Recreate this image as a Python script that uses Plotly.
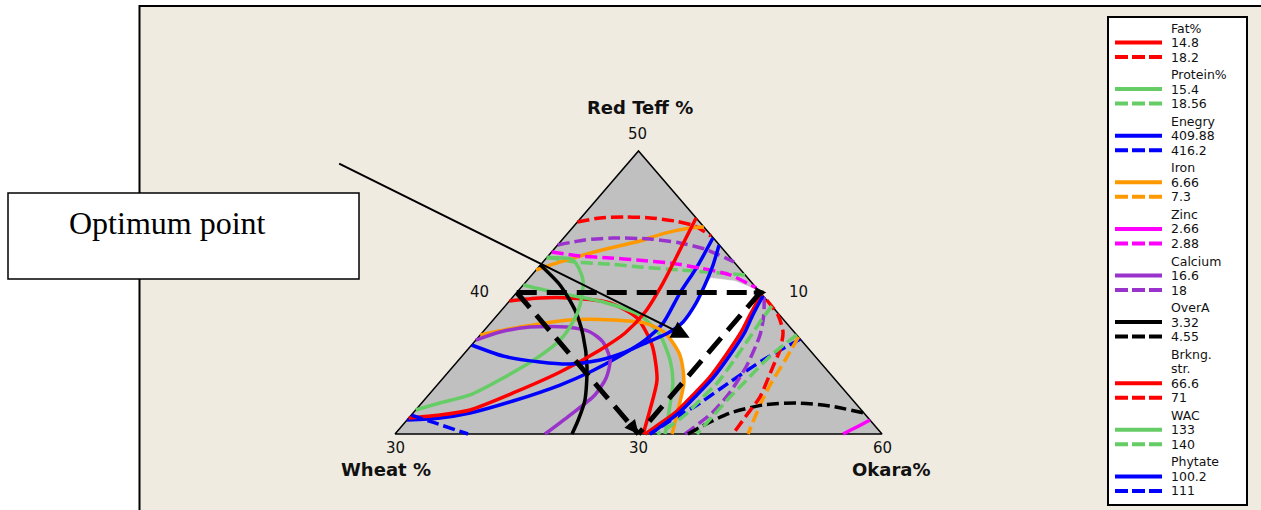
import numpy as np
import plotly.graph_objects as go

FIG_W, FIG_H = 1261, 510

# Blend design space (%): Red Teff 30-50, Wheat 10-30, Okara 40-60
TEFF_LO, OKARA_LO, SPAN = 30.0, 40.0, 20.0

# ---------------- response legend ----------------
response_names = ["Fat%", "Protein%", "Enegry", "Iron", "Zinc", "Calcium",
                  "OverA", "Brkng.\nstr.", "WAC", "Phytate"]
lower_limits = ["14.8", "15.4", "409.88", "6.66", "2.66", "16.6", "3.32", "66.6", "133", "100.2"]
upper_limits = ["18.2", "18.56", "416.2", "7.3", "2.88", "18", "4.55", "71", "140", "111"]
response_colors = ["#FF0000", "#66CC66", "#0000FF", "#FF9900", "#FF00FF", "#9933CC",
                   "#000000", "#FF0000", "#66CC66", "#0000FF"]

# ---------------- contour curves: (Red Teff %, Okara %); Wheat % = 100 - both ----------------
fat_14_8 = [[(39.40, 40.00), (39.61, 41.14), (39.61, 42.38), (39.26, 44.20), (38.20, 45.84),
             (36.29, 47.41), (33.82, 48.85), (31.70, 49.62), (30.00, 50.19)]]
fat_18_2 = [[(44.98, 40.00), (45.27, 40.79), (45.34, 41.78), (45.27, 42.84), (45.05, 43.97),
             (44.70, 44.97), (43.99, 45.98)]]

protein_15_4 = [[(40.53, 40.00), (40.04, 41.47), (39.33, 43.88), (38.41, 45.85), (37.00, 47.38),
                 (35.23, 48.68), (33.67, 49.58), (32.05, 50.27), (30.00, 51.09)]]
protein_18_56 = [[(42.51, 40.00), (42.16, 41.31), (42.01, 42.82), (41.80, 44.16), (41.59, 45.90),
                  (41.38, 47.66), (41.24, 48.75)]]

energy_409_88 = [[(43.85, 46.13), (41.80, 46.50), (39.96, 46.72), (37.84, 47.09), (36.64, 46.95),
                  (35.51, 46.48), (34.38, 45.82), (33.46, 45.05), (32.33, 43.68), (31.48, 42.34),
                  (31.13, 41.28), (30.99, 40.00)]]
energy_416_2 = [[(36.71, 53.29), (35.23, 52.50), (33.67, 51.92), (32.05, 51.38), (30.92, 50.83),
                 (30.00, 50.47)]]

iron_6_66 = [[(37.00, 40.00), (37.56, 41.35), (38.06, 43.16), (38.06, 44.92), (37.84, 46.35),
              (37.14, 47.52), (35.58, 48.91), (33.67, 50.03), (31.70, 50.77), (30.00, 51.38)],
             [(41.59, 40.00), (42.16, 40.70), (42.58, 41.31), (43.14, 42.26), (43.64, 43.24),
              (44.20, 43.99), (44.56, 44.84), (44.63, 45.37)]]
iron_7_3 = [[(36.86, 53.14), (35.23, 53.41), (33.46, 53.67), (32.05, 53.97), (30.00, 54.50)]]

zinc_2_66 = [[(30.00, 58.40), (30.49, 58.72), (30.99, 59.01)]]
zinc_2_88 = [[(42.86, 40.00), (42.58, 41.31), (42.44, 42.61), (42.30, 43.79), (42.08, 45.25),
              (41.73, 46.66), (41.24, 48.14), (40.32, 49.68)]]

calcium_16_6 = [[(36.64, 40.00), (37.21, 40.71), (37.56, 41.76), (37.56, 43.28), (37.21, 44.41),
                 (36.50, 45.29), (35.23, 46.22), (33.96, 46.69), (32.76, 46.83), (31.34, 46.52),
                 (30.00, 46.16)]]
calcium_18 = [[(43.36, 40.00), (43.71, 40.94), (43.85, 42.02), (43.78, 43.58), (43.50, 44.95),
               (43.07, 46.19), (42.16, 47.84)],
              [(39.68, 50.32), (38.41, 50.94), (37.00, 51.49), (34.88, 52.02), (32.97, 52.28),
               (31.55, 52.28), (30.00, 51.91)]]

overa_3_32 = [[(41.94, 40.00), (40.53, 41.51), (38.76, 43.01), (37.00, 44.22), (34.73, 45.52),
               (32.40, 46.60), (30.99, 47.03), (30.00, 47.27)]]
overa_4_55 = [[(30.00, 52.03), (30.85, 52.52), (31.48, 53.02), (32.05, 54.09), (32.19, 55.41),
               (31.98, 56.87), (31.48, 58.52)]]

brk_66_6 = [[(45.27, 44.73), (43.00, 45.20), (40.67, 45.67), (38.62, 45.96), (37.14, 45.88),
             (35.94, 45.45), (34.38, 44.59), (32.90, 43.40), (31.70, 42.23), (31.34, 41.18),
             (31.13, 40.00)],
            [(39.89, 50.11), (38.41, 50.37), (37.21, 50.61), (35.58, 50.80), (33.96, 50.92),
             (32.76, 50.86), (31.55, 50.76), (30.49, 50.43), (30.00, 50.27)]]
brk_71 = [[(39.47, 50.53), (38.41, 51.52), (37.21, 52.33), (35.94, 52.84), (34.73, 53.15),
           (32.61, 53.68), (31.27, 53.78), (30.00, 53.88)]]

wac_133 = [[(42.44, 40.00), (42.30, 41.16), (40.88, 42.28), (39.12, 43.04), (37.92, 43.35),
            (36.64, 43.46), (35.37, 43.14), (33.96, 42.46), (32.76, 41.70), (32.19, 40.75),
            (31.70, 40.00)]]
wac_140 = [[(37.00, 53.00), (35.79, 52.71), (35.02, 52.60), (33.67, 52.53), (32.61, 52.45),
            (31.20, 52.42), (30.00, 52.40)],
           [(39.05, 50.95), (37.92, 51.03), (36.86, 51.15), (35.30, 51.31), (33.67, 51.43),
            (32.54, 51.34), (31.34, 51.24), (30.35, 50.95), (30.00, 50.76)]]

phytate_100_2 = [[(43.36, 46.63), (41.94, 47.09), (40.53, 47.46), (39.12, 47.76), (37.92, 47.87),
                  (37.14, 47.64), (36.57, 47.18), (35.79, 46.55), (35.23, 45.81), (34.95, 44.72),
                  (35.09, 43.41), (35.51, 41.68), (36.29, 40.00)],
                 [(39.75, 50.23), (38.41, 50.49), (37.21, 50.77), (35.58, 50.97), (33.96, 51.08),
                  (32.76, 51.02), (31.55, 50.92), (30.49, 50.63), (30.00, 50.47)]]
phytate_111 = [[(31.34, 40.00), (30.78, 41.25), (30.00, 43.00)]]

# region where every response is inside its limits
feasible_region = [(41.02, 47.47), (40.81, 48.55), (40.18, 49.78), (39.89, 50.11), (38.41, 50.37),
                   (37.21, 50.61), (35.58, 50.80), (33.96, 50.92), (32.76, 50.86), (31.98, 50.76),
                   (33.67, 50.03), (35.58, 48.91), (36.86, 47.86), (37.92, 47.87), (39.12, 47.76),
                   (40.53, 47.46)]

# design-space vertices and the marked sub-region
design_vertices = [(30.0, 40.0), (30.0, 60.0), (50.0, 40.0)]
marked_region = [(40.0, 40.0), (40.0, 50.0), (30.0, 50.0)]
optimum_point = (36.8, 48.7)

# vertex / side labels
tick_points = [(50.0, 40.0), (30.0, 40.0), (30.0, 60.0), (40.0, 40.0), (40.0, 50.0), (30.0, 50.0)]
tick_text = ["50", "30", "60", "40", "10", "30"]
tick_shift = [(-1, 17), (0, -14), (0, -14), (-37, 1), (38, 1), (0, -14)]
axis_titles = ["Red Teff %", "Wheat %", "Okara%"]
title_points = [(50.0, 40.0), (30.0, 40.0), (30.0, 60.0)]
title_shift = [(1.5, 44), (-9, -35), (9, -35)]

lower_curves = [fat_14_8, protein_15_4, energy_409_88, iron_6_66, zinc_2_66, calcium_16_6,
                overa_3_32, brk_66_6, wac_133, phytate_100_2]
upper_curves = [fat_18_2, protein_18_56, energy_416_2, iron_7_3, zinc_2_88, calcium_18,
                overa_4_55, brk_71, wac_140, phytate_111]


def to_xy(points):
    """(Red Teff %, Okara %) -> planar coordinates of the simplex plot."""
    teff = np.array([p[0] for p in points], dtype=float)
    okara = np.array([p[1] for p in points], dtype=float)
    a = (teff - TEFF_LO) / SPAN
    c = (okara - OKARA_LO) / SPAN
    return c + a / 2.0, a


# pixel placement of the simplex inside the page
BASE_LEFT_PX, BASE_RIGHT_PX, BASE_PX, APEX_PX = 395, 882, 434, 151
SX = BASE_RIGHT_PX - BASE_LEFT_PX
SY = BASE_PX - APEX_PX
x_range = [-BASE_LEFT_PX / SX, (FIG_W - BASE_LEFT_PX) / SX]
y_range = [-(FIG_H - BASE_PX) / SY, BASE_PX / SY]


def px(x):
    return x / FIG_W


def py(y):
    return 1 - y / FIG_H


SANS = "DejaVu Sans"
fig = go.Figure()

# grey simplex
vx, vy = to_xy(design_vertices + design_vertices[:1])
fig.add_trace(go.Scatter(x=vx, y=vy, mode="lines", fill="toself", fillcolor="#C0C0C0",
                         line=dict(color="#000000", width=1.5), hoverinfo="skip", showlegend=False))

# white feasible area
fx, fy = to_xy(feasible_region + feasible_region[:1])
fig.add_trace(go.Scatter(x=fx, y=fy, mode="lines", fill="toself", fillcolor="#FFFFFF",
                         line=dict(color="#FFFFFF", width=0.5), hoverinfo="skip", showlegend=False))

# contour lines: solid = lower limit, dashed = upper limit
for i, color in enumerate(response_colors):
    for segs, dash in ((lower_curves[i], "solid"), (upper_curves[i], "12px,5px")):
        for seg in segs:
            x, y = to_xy(seg)
            fig.add_trace(go.Scatter(x=x, y=y, mode="lines",
                                     line=dict(color=color, width=3.5, dash=dash,
                                               shape="spline", smoothing=0.7),
                                     hoverinfo="skip", showlegend=False))

# marked triangle (dashed)
A, B, C = marked_region
for p, q in ((A, B), (A, C), (B, C)):
    x, y = to_xy([p, q])
    fig.add_trace(go.Scatter(x=x, y=y, mode="lines",
                             line=dict(color="#000000", width=5, dash="20px,10px"),
                             hoverinfo="skip", showlegend=False))

annotations = []
bx, by = to_xy([B])
cx, cy = to_xy([C])
annotations.append(dict(x=bx[0] + 6 / SX, y=by[0], xref="x", yref="y", ax=-14, ay=0,
                        showarrow=True, arrowhead=2, arrowsize=0.55, arrowwidth=4,
                        arrowcolor="#000000", text=""))
annotations.append(dict(x=cx[0], y=cy[0], xref="x", yref="y", ax=-10, ay=-12,
                        showarrow=True, arrowhead=2, arrowsize=0.55, arrowwidth=5,
                        arrowcolor="#000000", text=""))

# optimum pointer
ox, oy = to_xy([optimum_point])
annotations.append(dict(x=ox[0], y=oy[0], xref="x", yref="y", ax=-352, ay=-175,
                        showarrow=True, arrowhead=2, arrowsize=1.8, arrowwidth=2,
                        arrowcolor="#000000", text=""))

# tick values and axis titles
for pt, txt, (dx, dy) in zip(tick_points, tick_text, tick_shift):
    x, y = to_xy([pt])
    annotations.append(dict(x=x[0], y=y[0], xref="x", yref="y", text=txt, showarrow=False,
                            xshift=dx, yshift=dy, font=dict(family=SANS, size=15, color="#111111")))
for pt, txt, (dx, dy) in zip(title_points, axis_titles, title_shift):
    x, y = to_xy([pt])
    annotations.append(dict(x=x[0], y=y[0], xref="x", yref="y", text=txt, showarrow=False,
                            xshift=dx, yshift=dy,
                            font=dict(family=SANS, size=18, color="#111111", weight="bold")))

shapes = []
# page panel
shapes.append(dict(type="rect", xref="paper", yref="paper", x0=px(139), x1=1.0, y0=0.0, y1=py(6),
                   fillcolor="#EFEBE1", line=dict(width=0), layer="below"))
shapes.append(dict(type="path", xref="paper", yref="paper",
                   path=f"M {px(139.5)},0 L {px(139.5)},{py(6)} L 1,{py(6)}",
                   line=dict(color="#000000", width=2), layer="below"))

# "Optimum point" box
shapes.append(dict(type="rect", xref="paper", yref="paper", x0=px(8), x1=px(359), y0=py(279), y1=py(193),
                   fillcolor="#FFFFFF", line=dict(color="#000000", width=1.5)))
annotations.append(dict(x=px(67), y=py(223), xref="paper", yref="paper", xanchor="left", yanchor="middle",
                        text="Optimum point", showarrow=False,
                        font=dict(family="Liberation Serif", size=32, color="#000000")))

# legend box
shapes.append(dict(type="rect", xref="paper", yref="paper", x0=px(1108), x1=px(1247), y0=py(505), y1=py(17),
                   fillcolor="#FFFFFF", line=dict(color="#000000", width=2)))
LEG_FONT = dict(family=SANS, size=12.5, color="#111111")
y_cur = 28.0
for name, lo, hi, color in zip(response_names, lower_limits, upper_limits, response_colors):
    lines = name.split("\n")
    for k, ln in enumerate(lines):
        annotations.append(dict(x=px(1169), y=py(y_cur), xref="paper", yref="paper", xanchor="left",
                                yanchor="middle", text=ln, showarrow=False, font=LEG_FONT))
        if k < len(lines) - 1:
            y_cur += 14.5
    for val, dash in ((lo, "solid"), (hi, "13px,4px")):
        y_cur += 14.5
        shapes.append(dict(type="line", xref="paper", yref="paper", x0=px(1115), x1=px(1162),
                           y0=py(y_cur), y1=py(y_cur), line=dict(color=color, width=4, dash=dash)))
        annotations.append(dict(x=px(1169), y=py(y_cur), xref="paper", yref="paper", xanchor="left",
                                yanchor="middle", text=val, showarrow=False, font=LEG_FONT))
    y_cur += 17.6

fig.update_layout(
    width=FIG_W, height=FIG_H, autosize=False,
    margin=dict(l=0, r=0, t=0, b=0),
    paper_bgcolor="#FFFFFF", plot_bgcolor="#FFFFFF",
    xaxis=dict(range=x_range, visible=False, fixedrange=True),
    yaxis=dict(range=y_range, visible=False, fixedrange=True),
    shapes=shapes, annotations=annotations, showlegend=False,
)

fig.write_html("out.html")
